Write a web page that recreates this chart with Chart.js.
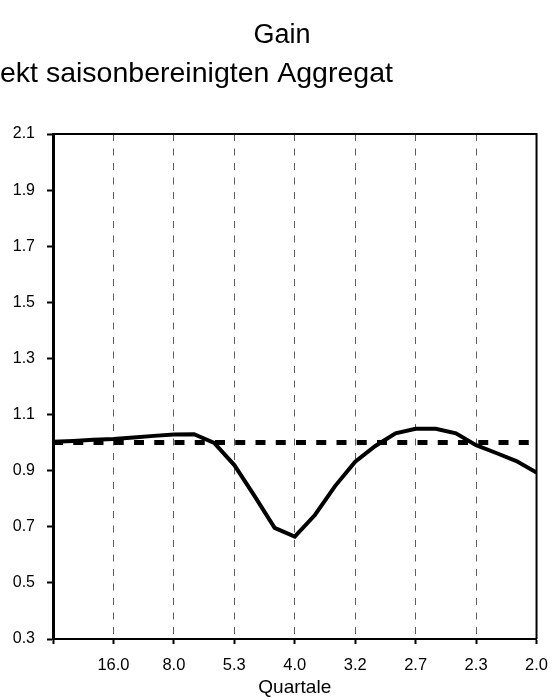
<!DOCTYPE html>
<html>
<head>
<meta charset="utf-8">
<title>Gain</title>
<script src="https://cdn.jsdelivr.net/npm/chart.js@4.4.1/dist/chart.umd.min.js"></script>
<style>
  html, body { margin: 0; padding: 0; background: #fff; }
  #wrap { width: 560px; height: 699px; }
</style>
</head>
<body>
<div id="wrap"><canvas id="gainChart" width="560" height="699"></canvas></div>
<script>
// x runs over frequency in steps of one third of a tick interval;
// the ticks are labelled with the matching period in quarters
const periodLabels = ['', '16.0', '8.0', '5.3', '4.0', '3.2', '2.7', '2.3', '2.0'];
const stepsPerTick = 3;

// gain of the filter at each frequency step
const gain = [
  1.003, 1.006, 1.010, 1.013, 1.018, 1.024, 1.029, 1.030, 0.999,
  0.920, 0.810, 0.696, 0.665, 0.742, 0.845, 0.932, 0.988,
  1.033, 1.049, 1.049, 1.033, 0.991, 0.963, 0.934, 0.893
];

// reference level (gain of one) from first to last frequency
const unitGainX = [0, 8];
const unitGain = [1.0, 1.0];

const titleText = 'Gain';
const subtitleText = 'ekt saisonbereinigten Aggregat';
const axisTitle = 'Quartale';

Chart.defaults.font.family = "'Liberation Sans', Arial, sans-serif";
Chart.defaults.color = '#000';

const headerPlugin = {
  id: 'header',
  afterDraw(chart) {
    const ctx = chart.ctx;
    ctx.save();
    ctx.fillStyle = '#000';
    ctx.textBaseline = 'alphabetic';
    ctx.font = "27px 'Liberation Sans', Arial, sans-serif";
    ctx.textAlign = 'center';
    ctx.fillText(titleText, 282, 43);
    ctx.font = "28.5px 'Liberation Sans', Arial, sans-serif";
    ctx.textAlign = 'left';
    ctx.fillText(subtitleText, 0, 82);
    ctx.restore();
  }
};

// top and right edges of the plot frame
const framePlugin = {
  id: 'frame',
  afterDatasetsDraw(chart) {
    const { ctx, chartArea: a } = chart;
    ctx.save();
    ctx.strokeStyle = '#000';
    ctx.lineWidth = 2;
    ctx.beginPath();
    ctx.moveTo(a.left, a.top);
    ctx.lineTo(a.right, a.top);
    ctx.lineTo(a.right, a.bottom);
    ctx.stroke();
    ctx.restore();
  }
};

const isEdge = v => v === 0 || v === periodLabels.length - 1;

new Chart(document.getElementById('gainChart'), {
  type: 'line',
  data: {
    datasets: [
      {
        label: 'Gain',
        data: gain.map((g, i) => ({ x: i / stepsPerTick, y: g })),
        borderColor: '#000',
        borderWidth: 4,
        pointRadius: 0,
        tension: 0,
        order: 1
      },
      {
        label: 'Eins',
        data: unitGain.map((g, i) => ({ x: unitGainX[i], y: g })),
        borderColor: '#000',
        borderWidth: 5,
        borderDash: [10, 10.25],
        borderCapStyle: 'butt',
        pointRadius: 0,
        order: 2
      }
    ]
  },
  options: {
    responsive: false,
    animation: false,
    devicePixelRatio: 1,
    layout: { padding: { top: 134, right: 21, left: 0, bottom: 0 } },
    plugins: {
      legend: { display: false },
      tooltip: { enabled: false }
    },
    scales: {
      x: {
        type: 'linear',
        min: 0,
        max: periodLabels.length - 1,
        afterFit(scale) { scale.height = 60; },
        ticks: {
          stepSize: 1,
          autoSkip: false,
          maxRotation: 0,
          color: '#000',
          font: { size: 16.5 },
          padding: 12,
          callback: v => periodLabels[v] ?? ''
        },
        grid: {
          color: c => (c.tick && isEdge(c.tick.value)) ? 'rgba(0,0,0,0)' : '#5e5e5e',
          lineWidth: 1,
          drawTicks: true,
          tickLength: 5,
          tickColor: '#000',
          tickWidth: 2,
          tickBorderDash: []
        },
        border: { display: true, color: '#000', width: 2, dash: [7, 7.5] },
        title: {
          display: true,
          text: axisTitle,
          color: '#000',
          font: { size: 19 },
          padding: { top: 0, bottom: 0 }
        }
      },
      y: {
        min: 0.3,
        max: 2.1,
        afterFit(scale) { scale.width = 53; },
        ticks: {
          stepSize: 0.2,
          color: '#000',
          font: { size: 16 },
          padding: 12,
          callback: v => v.toFixed(1)
        },
        grid: {
          drawOnChartArea: false,
          drawTicks: true,
          tickLength: 6,
          tickColor: '#000',
          tickWidth: 2
        },
        border: { display: true, color: '#000', width: 3 }
      }
    }
  },
  plugins: [headerPlugin, framePlugin]
});
</script>
</body>
</html>
